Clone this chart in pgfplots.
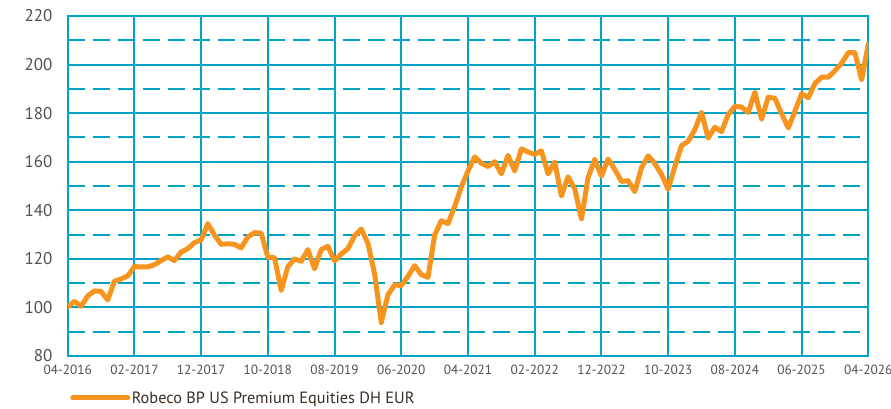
\documentclass[border=0pt]{standalone}
\usepackage{fontspec}
\setmainfont{PT Sans}
\usepackage{pgfplots}
\usepackage{pgfplotstable}
\pgfplotsset{compat=1.18}
\definecolor{gridc}{RGB}{0,163,196}
\definecolor{orng}{RGB}{247,148,29}
\definecolor{lbl}{RGB}{80,80,80}
\definecolor{legc}{RGB}{60,45,35}
\pgfplotstableread{
m v
0 100.2
1 102.5
2 100.5
3 104.7
4 106.8
5 106.6
6 103.1
7 110.8
8 111.7
9 113.0
10 116.8
11 116.7
12 116.7
13 117.6
14 119.3
15 120.8
16 119.3
17 122.8
18 124.2
19 126.7
20 127.8
21 134.5
22 129.8
23 126.0
24 126.2
25 126.0
26 124.5
27 129.0
28 130.8
29 130.6
30 120.6
31 120.5
32 107.0
33 116.8
34 120.0
35 119.0
36 123.8
37 115.9
38 123.8
39 125.2
40 119.2
41 122.0
42 124.2
43 129.5
44 132.3
45 126.4
46 113.8
47 93.8
48 105.2
49 109.3
50 109.0
51 112.8
52 117.2
53 113.5
54 112.4
55 129.8
56 135.7
57 134.5
58 141.6
59 149.6
60 156.2
61 162.0
62 159.4
63 158.0
64 160.0
65 155.0
66 162.6
67 156.2
68 165.3
69 164.0
70 163.0
71 164.5
72 155.0
73 159.9
74 145.9
75 153.8
76 148.8
77 136.5
78 153.5
79 161.0
80 154.1
81 161.1
82 156.8
83 151.9
84 152.2
85 147.7
86 157.5
87 162.4
88 159.3
89 154.8
90 148.7
91 158.0
92 166.6
93 168.4
94 173.2
95 180.3
96 169.7
97 174.2
98 172.4
99 179.4
100 182.8
101 182.5
102 180.3
103 188.6
104 177.5
105 186.6
106 186.1
107 179.8
108 173.9
109 180.8
110 188.0
111 186.3
112 192.2
113 194.8
114 194.8
115 197.5
116 200.5
117 204.9
118 204.9
119 193.7
120 208.5
}\series
\begin{document}
\begin{tikzpicture}[x=1pt,y=1pt]
\useasboundingbox (0,0) rectangle (891,408);
\begin{axis}[
  at={(67.7pt,52pt)}, anchor=south west,
  scale only axis, width=800.6pt, height=340pt,
  xmin=0, xmax=120, ymin=80, ymax=220,
  xtick={0,10,...,120},
  xticklabels={04-2016,02-2017,12-2017,10-2018,08-2019,06-2020,04-2021,02-2022,12-2022,10-2023,08-2024,06-2025,04-2026},
  ytick={80,100,...,220},
  minor ytick={90,110,...,210},
  xmajorgrids, ymajorgrids, yminorgrids,
  major grid style={gridc, line width=1.9pt},
  minor grid style={gridc, line width=1.9pt, dash pattern=on 17pt off 8pt},
  axis line style={gridc, line width=2pt},
  major tick length=0pt, minor tick length=0pt,
  /pgf/number format/assume math mode=true,
  yticklabel style={font=\fontsize{17}{17}\selectfont, color=lbl, anchor=east, inner sep=0pt, xshift=-15pt},
  xticklabel style={font=\fontsize{13.3}{13.3}\selectfont, color=lbl, anchor=north, inner sep=0pt, yshift=-9pt},
  legend style={at={(0.003,-0.1235)}, anchor=west, draw=none, fill=none,
    font=\fontsize{16.3}{16.3}\selectfont, text=legc, inner sep=0pt, nodes={inner sep=1.5pt}},
  legend cell align=left,
  legend image code/.code={\draw[orng, line width=5pt] (0pt,0pt) -- (55pt,0pt);},
]
\addplot[orng, line width=5pt, line join=round, line cap=round] table[x=m, y=v] {\series};
\addlegendentry{Robeco BP US Premium Equities DH EUR}
\end{axis}
\end{tikzpicture}
\end{document}
